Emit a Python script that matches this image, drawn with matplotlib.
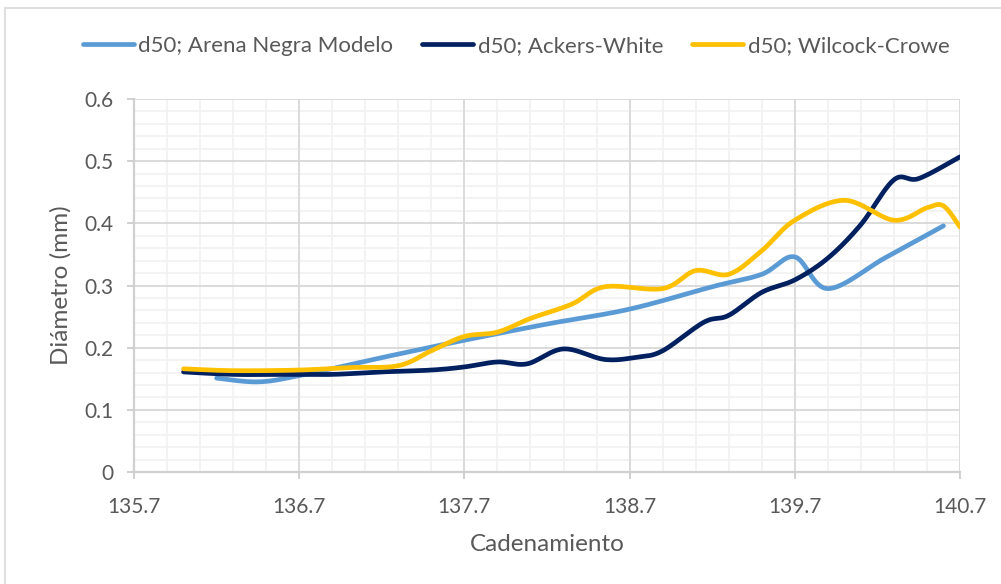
import matplotlib
matplotlib.use("Agg")
import matplotlib.pyplot as plt
from matplotlib.patches import Rectangle
import numpy as np

plt.rc('font', family=['Lato', 'DejaVu Sans'], size=15)

# d50 por cadenamiento
x_modelo = [136.2, 136.45, 136.7, 137.2, 137.7, 138.2, 138.7, 139.2, 139.5,
            139.7, 139.9, 140.25, 140.6]
d50_modelo = [0.151, 0.145, 0.155, 0.184, 0.212, 0.238, 0.262, 0.298, 0.318,
              0.346, 0.295, 0.345, 0.396]

x_ackers = [136.0, 136.3, 136.6, 136.9, 137.2, 137.5, 137.7, 137.9, 138.08,
            138.3, 138.55, 138.75, 138.9, 139.15, 139.3, 139.5, 139.7, 139.9,
            140.1, 140.3, 140.45, 140.7]
d50_ackers = [0.161, 0.157, 0.157, 0.157, 0.161, 0.164, 0.169, 0.177, 0.174,
              0.198, 0.181, 0.185, 0.195, 0.241, 0.252, 0.289, 0.309, 0.344,
              0.398, 0.470, 0.472, 0.507]

x_wilcock = [136.0, 136.3, 136.7, 137.0, 137.3, 137.5, 137.7, 137.9, 138.1,
             138.35, 138.55, 138.9, 139.1, 139.3, 139.5, 139.7, 140.0, 140.3,
             140.5, 140.6, 140.7]
d50_wilcock = [0.166, 0.163, 0.164, 0.168, 0.171, 0.195, 0.218, 0.225, 0.247,
               0.270, 0.298, 0.295, 0.324, 0.318, 0.356, 0.405, 0.437, 0.405,
               0.425, 0.428, 0.394]

series = [
    ("d50; Arena Negra Modelo", x_modelo, d50_modelo, "#5B9BD5"),
    ("d50; Ackers-White", x_ackers, d50_ackers, "#002060"),
    ("d50; Wilcock-Crowe", x_wilcock, d50_wilcock, "#FFC000"),
]

x_ticks = [135.7, 136.7, 137.7, 138.7, 139.7, 140.7]
y_ticks = [0, 0.1, 0.2, 0.3, 0.4, 0.5, 0.6]
y_ticklabels = ["0", "0.1", "0.2", "0.3", "0.4", "0.5", "0.6"]


def smooth(x, y, n=24):
    # Catmull-Rom through the points, drawn as cubic Bezier segments
    p = np.column_stack([x, y]).astype(float)
    p = np.vstack([p[0], p, p[-1]])
    t = np.linspace(0, 1, n)[:, None]
    out = []
    for i in range(1, len(p) - 2):
        p0, p1, p2, p3 = p[i - 1], p[i], p[i + 1], p[i + 2]
        c1 = p1 + (p2 - p0) / 6
        c2 = p2 - (p3 - p1) / 6
        seg = ((1 - t) ** 3 * p1 + 3 * (1 - t) ** 2 * t * c1
               + 3 * (1 - t) * t ** 2 * c2 + t ** 3 * p2)
        out.append(seg if i == 1 else seg[1:])
    out = np.vstack(out)
    return out[:, 0], out[:, 1]


fig = plt.figure(figsize=(10.01, 5.84), dpi=100)
ax = fig.add_axes([134 / 1001, 112 / 584, 826 / 1001, 373 / 584])

x0, x1 = x_ticks[0], x_ticks[-1]
y0, y1 = y_ticks[0], y_ticks[-1]

# minor grid first, major grid on top of it
minor_x = np.arange(x0, x1 + 1e-6, 0.2)
minor_y = np.arange(y0, y1 + 1e-6, 0.02)
ax.vlines(minor_x, y0, y1, color='#F2F2F2', lw=1.3, zorder=0)
ax.hlines(minor_y, x0, x1, color='#F2F2F2', lw=1.3, zorder=0)
ax.vlines(x_ticks, y0, y1, color='#D9D9D9', lw=1.3, zorder=1)
ax.hlines(y_ticks, x0, x1, color='#D9D9D9', lw=1.3, zorder=1)

for label, xs, ys, color in series:
    sx, sy = smooth(xs, ys)
    ax.plot(sx, sy, color=color, lw=3.4, label=label,
            solid_capstyle='round', zorder=3)

ax.set_xlim(x0, x1)
ax.set_ylim(y0, y1)
ax.set_xticks(x_ticks)
ax.set_xticklabels([f"{v:.1f}" for v in x_ticks])
ax.set_yticks(y_ticks)
ax.set_yticklabels(y_ticklabels)

for side in ['top', 'right']:
    ax.spines[side].set_visible(False)
for side in ['left', 'bottom']:
    ax.spines[side].set_color('#D0D0D0')
    ax.spines[side].set_linewidth(1.6)
    ax.spines[side].set_zorder(2)
ax.tick_params(axis='both', length=5, width=1.4, color='#D0D0D0',
               labelcolor='#595959', labelsize=15)
ax.tick_params(axis='x', pad=13)
ax.tick_params(axis='y', pad=10)

ax.set_xlabel("Cadenamiento", color='#595959', fontsize=17.5, labelpad=12)
ax.set_ylabel("Diámetro (mm)", color='#595959', fontsize=17.5, labelpad=9)

leg = fig.legend(loc='center', bbox_to_anchor=(516 / 1001, 1 - 46 / 584),
                 ncol=3, frameon=False, handlelength=2.3, handletextpad=0.2,
                 columnspacing=1.3, fontsize=16)
for txt in leg.get_texts():
    txt.set_color('#595959')

# chart area border
fig.patches.append(Rectangle((5 / 1001, -0.2), 1.2, 1.2 - 8 / 584,
                             transform=fig.transFigure, fill=False,
                             edgecolor='#D9D9D9', lw=1.2))

fig.savefig("out.png", dpi=100)
